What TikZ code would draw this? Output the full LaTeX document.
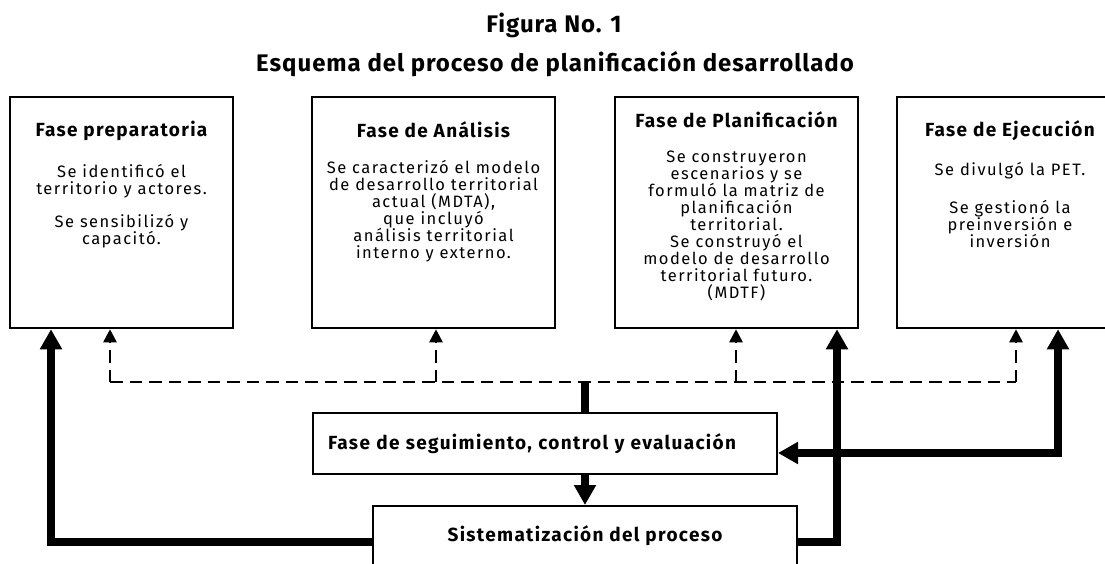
\documentclass[tikz,border=0pt]{standalone}
\usepackage{fontspec}
\setmainfont{Fira Sans}
\usetikzlibrary{arrows.meta,positioning}

\newcommand{\bodyfont}{\fontsize{16.5}{17}\selectfont\addfontfeature{LetterSpace=9}\lineskiplimit=-100pt}
\newcommand{\headfont}{\bfseries\fontsize{19}{16}\selectfont\addfontfeature{LetterSpace=7}}
\newcommand{\titlefont}{\bfseries\fontsize{24}{28}\selectfont\addfontfeature{LetterSpace=4}}

\tikzset{
  fase/.style={draw, line width=2.5pt, minimum width=243pt, minimum height=231pt, inner sep=0pt},
  head/.style={anchor=base, inner sep=0pt, font=\headfont},
  body/.style={anchor=north, align=center, inner sep=0pt, font=\bodyfont},
  flat/.style={draw, line width=2pt, minimum height=61pt, inner sep=0pt, font=\headfont},
  thickline/.style={line width=8pt},
  bigarrow/.style={line width=8pt, -{Triangle[width=21pt,length=20pt]}},
  dashline/.style={line width=2.5pt, dash pattern=on 12.5pt off 7pt},
  dasharrow/.style={dashline, -{Triangle[width=13pt,length=13pt]}}
}

\begin{document}
\begin{tikzpicture}[x=1pt, y=-1pt]
  \useasboundingbox (0,0) rectangle (1105,564);

  % titulo
  \node[anchor=base, font=\titlefont] (fig) at (554,33) {Figura No. 1};
  \node[anchor=base, font=\titlefont] (esq) at (555,72) {Esquema del proceso de planificación desarrollado};

  % fases
  \node[fase, minimum width=223pt] (prep) at (121.5,212.5) {};
  \node[fase] (anal) at (433.5,212.5) {};
  \node[fase] (plan) at (736.5,212.5) {};
  \node[fase, minimum width=226pt] (ejec) at (1010,212.5) {};

  \node[head] (prep-h) at (prep.center |- 0,137) {Fase preparatoria};
  \node[body] (prep-b) at (prep.center |- 0,164) {Se identificó el\\territorio y actores.\\[16pt]Se sensibilizó y\\capacitó.};

  \node[head] (anal-h) at (anal.center |- 0,138) {Fase de Análisis};
  \node[body] (anal-b) at (anal.center |- 0,160) {Se caracterizó el modelo\\de desarrollo territorial\\actual (MDTA),\\que incluyó\\análisis territorial\\interno y externo.};

  \node[head] (plan-h) at (plan.center |- 0,128) {Fase de Planificación};
  \node[body] (plan-b) at (plan.center |- 0,151) {Se construyeron\\escenarios y se\\formuló la matriz de\\planificación\\territorial.\\Se construyó el\\modelo de desarrollo\\territorial futuro.\\(MDTF)};

  \node[head] (ejec-h) at (ejec.center |- 0,137) {Fase de Ejecución};
  \node[body] (ejec-b) at (ejec.center |- 0,162) {Se divulgó la PET.\\[21pt]Se gestionó la\\preinversión e\\inversión};

  % seguimiento y sistematizacion
  \node[flat, minimum width=464pt, text width=434pt, align=left] (seg) at (545,443.5) {Fase de seguimiento, control y evaluación};
  \node[flat, minimum width=424pt, minimum height=60pt] (sis) at (585,536) {Sistematización del proceso};

  % retroalimentacion
  \coordinate (d1) at (110,382);
  \coordinate (d2) at (436,382);
  \coordinate (d3) at (736,382);
  \coordinate (d4) at (1016,382);
  \draw[dashline] (d1) -- (d4);
  \foreach \d/\b in {d1/prep, d2/anal, d3/plan, d4/ejec}
    \draw[dasharrow] (\d) -- (\d |- \b.south);

  \draw[thickline] (sis.north |- seg.north) -- (sis.north |- d1);
  \draw[bigarrow] (sis.north |- seg.south) -- (sis.north);

  \coordinate (ll) at (51,542);
  \coordinate (lr) at (837,542);
  \coordinate (rr) at (1058,453);
  \draw[bigarrow] (sis.west |- ll) -- (ll) -- (ll |- prep.south);
  \draw[bigarrow] (sis.east |- lr) -- (lr) -- (lr |- plan.south);
  \draw[bigarrow, {Triangle[width=21pt,length=20pt]}-{Triangle[width=21pt,length=20pt]}] (rr |- ejec.south) -- (rr) -- (rr -| seg.east);
\end{tikzpicture}
\end{document}
